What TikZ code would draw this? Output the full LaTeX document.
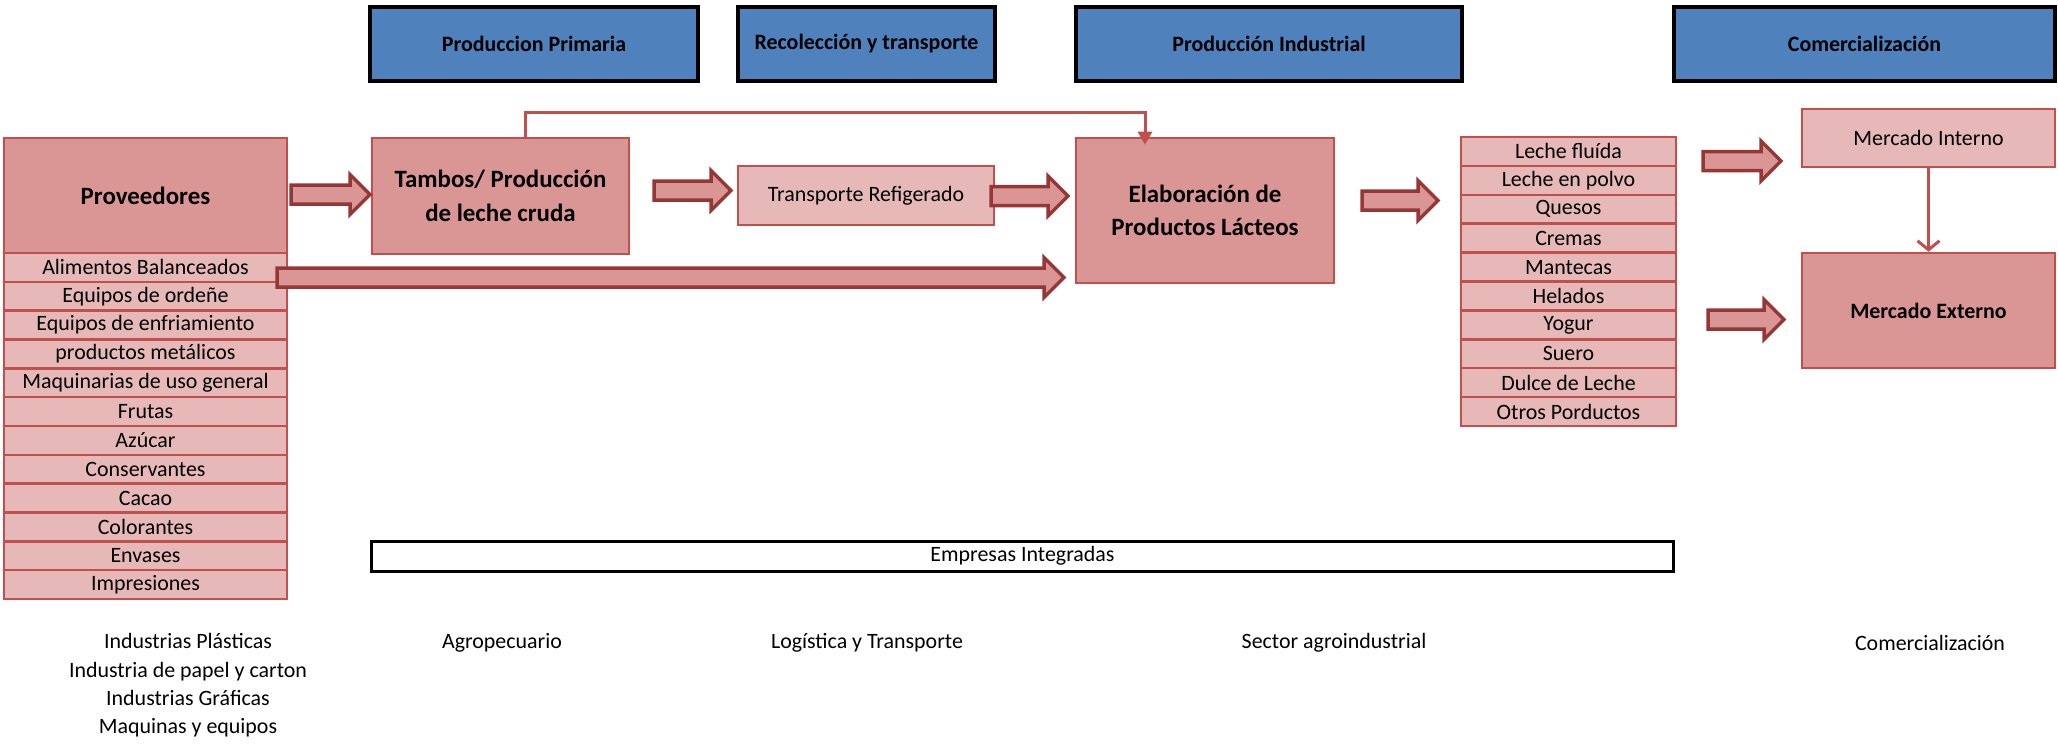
\documentclass[tikz,border=0pt]{standalone}
\usepackage{fontspec}
\setmainfont{Carlito}
\usetikzlibrary{arrows.meta,calc}
\definecolor{hblue}{HTML}{4F81BD}
\definecolor{pdark}{HTML}{D99694}
\definecolor{plight}{HTML}{E6B9B8}
\definecolor{bred}{HTML}{C0504D}
\definecolor{adark}{HTML}{953735}
\newcommand{\blockarr}[2]{%
  \draw[barrow] (#1) ++(0,-9.5) -- ++(#2-20,0) -- ++(0,-10.5) -- ++(20,20) -- ++(-20,20) -- ++(0,-10.5) -- ++(-#2+20,0) -- cycle;}
\begin{document}
\begin{tikzpicture}[x=1bp,y=-1bp,
  txt/.style={font=\fontsize{22}{26}\selectfont},
  hdr/.style={draw=black, line width=4.5bp, fill=hblue, minimum height=74bp, inner sep=0pt, font=\fontsize{22}{26}\selectfont\bfseries},
  darkbox/.style={draw=bred, line width=2.5bp, fill=pdark, inner sep=0pt, align=center},
  lightbox/.style={draw=bred, line width=2.5bp, fill=plight, inner sep=0pt, align=center},
  bigbold/.style={font=\fontsize{25}{33.5}\selectfont\bfseries},
  rowbox/.style={lightbox, txt},
  barrow/.style={draw=adark, line width=3.5bp, fill=pdark, line join=miter},
  conn/.style={draw=bred, line width=3bp}]
\useasboundingbox (0,0) rectangle (2058,744);
% headers
\node[hdr, minimum width=328bp] (hPP) at (534,44) {Produccion Primaria};
\node[hdr, minimum width=257bp] (hRT) at (866.5,44) {Recolección y transporte};
\node[hdr, minimum width=386bp] (hPI) at (1269,44) {Producción Industrial};
\node[hdr, minimum width=381bp] (hCO) at (1864.5,44) {Comercialización};
% proveedores
\node[darkbox, bigbold, minimum width=283bp, minimum height=115bp] (prov) at (145.5,195.5) {Proveedores};
\foreach \t [count=\i] in {Alimentos Balanceados,Equipos de ordeñe,Equipos de enfriamiento,productos metálicos,Maquinarias de uso general,Frutas,Azúcar,Conservantes,Cacao,Colorantes,Envases,Impresiones}
  \node[rowbox, minimum width=283bp, minimum height=28.83bp] (p\i) at (145.5,{253+28.83*(\i-0.5)}) {\t};
% chain
\node[darkbox, bigbold, minimum width=257bp, minimum height=116bp] (tambos) at (500.5,196) {Tambos/ Producción\\de leche cruda};
\node[lightbox, txt, minimum width=256bp, minimum height=59bp] (transp) at (866,195.5) {Transporte Refigerado};
\node[darkbox, bigbold, minimum width=258bp, minimum height=145bp] (elab) at (1205,210.5) {Elaboración de\\Productos Lácteos};
\foreach \t [count=\i] in {Leche fluída,Leche en polvo,Quesos,Cremas,Mantecas,Helados,Yogur,Suero,Dulce de Leche,Otros Porductos}
  \node[rowbox, minimum width=215bp, minimum height=28.9bp] (q\i) at (1568.5,{137+28.9*(\i-0.5)}) {\t};
\node[lightbox, txt, minimum width=253bp, minimum height=58bp] (mi) at (1928.5,138) {Mercado Interno};
\node[darkbox, font=\fontsize{22}{26}\selectfont\bfseries, minimum width=253bp, minimum height=115bp] (me) at (1928.5,310.5) {Mercado Externo};
% empresas integradas
\node[draw=black, line width=3bp, txt, minimum width=1301bp, minimum height=30bp, inner sep=0pt] (emp) at (1022.5,556) {Empresas Integradas};
% bottom labels
\node[align=center, font=\fontsize{22}{28.5}\selectfont] (ind) at (188,685.5) {Industrias Plásticas\\Industria de papel y carton\\Industrias Gráficas\\Maquinas y equipos};
\node[txt] (agro) at (502,643) {Agropecuario};
\node[txt] (log) at (867,643) {Logística y Transporte};
\node[txt] (sec) at (1334,643) {Sector agroindustrial};
\node[txt] (com) at (1930,643) {Comercialización};
% connectors
\draw[conn, -{Triangle[length=13bp,width=14bp]}, shorten >=-8bp] ([xshift=24.5bp]tambos.north) -- ++(0,-24) -| ([xshift=-60bp]elab.north);
\draw[conn, -{Straight Barb[length=9bp,width=22bp]}] (mi.south) -- (me.north);
% block arrows
\coordinate (a1) at (291,194.5);
\coordinate (a2) at (654,190.5);
\coordinate (a3) at (991,196);
\coordinate (a4) at (277,277.5);
\coordinate (a5) at (1362,200.5);
\coordinate (a6) at (1703,161);
\coordinate (a7) at (1708,319.5);
\blockarr{a1}{79}
\blockarr{a2}{77}
\blockarr{a3}{77}
\blockarr{a4}{787}
\blockarr{a5}{76}
\blockarr{a6}{78}
\blockarr{a7}{76}
\end{tikzpicture}
\end{document}
